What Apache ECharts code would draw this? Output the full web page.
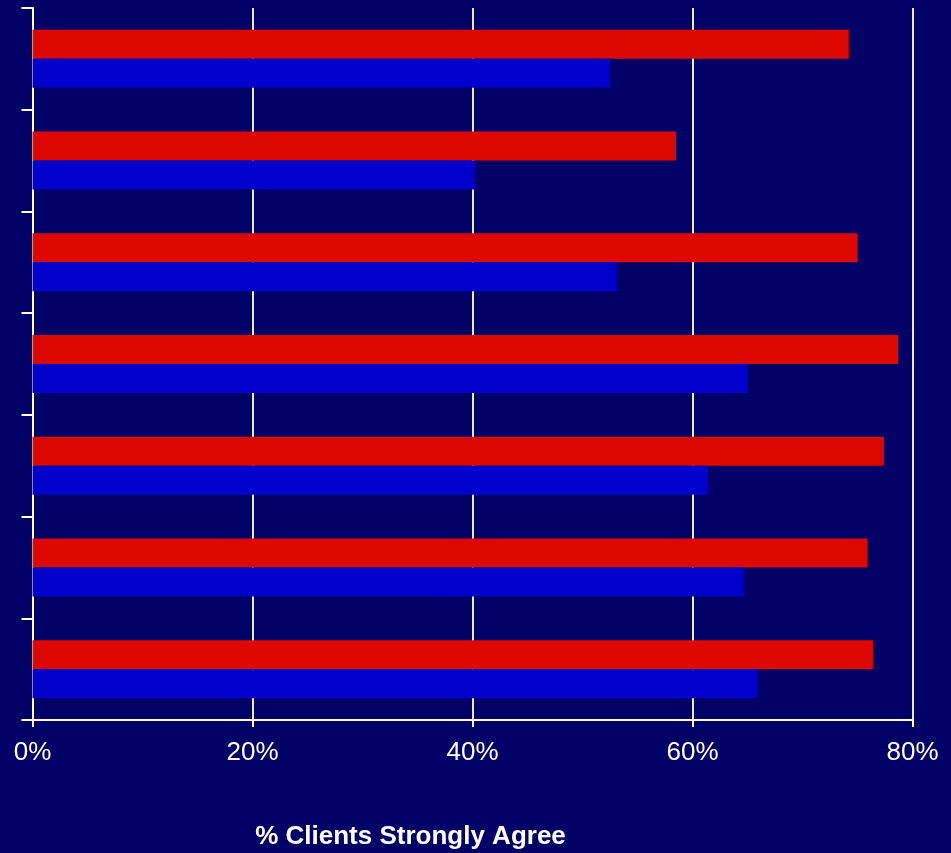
<!DOCTYPE html>
<html>
<head>
<meta charset="utf-8">
<script src="https://cdn.jsdelivr.net/npm/echarts@6/dist/echarts.min.js"></script>
<style>html,body{margin:0;padding:0;background:#000066;}#c{width:951px;height:853px;}</style>
</head>
<body>
<div id="c"></div>
<script>
const categories = ['Item 1','Item 2','Item 3','Item 4','Item 5','Item 6','Item 7'];
const redValues = [74.2, 58.5, 75.0, 78.7, 77.4, 75.9, 76.4];
const blueValues = [52.5, 40.2, 53.1, 65.0, 61.4, 64.6, 65.9];
const xTicks = [0, 20, 40, 60, 80];
const axisTitle = '% Clients Strongly Agree';

const chart = echarts.init(document.getElementById('c'));
chart.setOption({
  backgroundColor: '#000066',
  animation: false,
  grid: { left: 32.5, right: 38.5, top: 8, bottom: 133, containLabel: false, outerBoundsMode: 'none' },
  xAxis: {
    type: 'value', min: xTicks[0], max: xTicks[xTicks.length-1], interval: 20,
    axisLine: { show: true, lineStyle: { color: '#ffffff', width: 2 } },
    axisTick: { show: true, length: 7, lineStyle: { color: '#ffffff', width: 2 } },
    splitLine: { show: true, lineStyle: { color: '#e8e8f0', width: 2 } },
    axisLabel: { color: '#ffffff', fontFamily: 'Liberation Sans, Arial, sans-serif', fontSize: 26, margin: 20,
      formatter: v => v + '%' },
    name: axisTitle, nameLocation: 'middle', nameGap: 104,
    nameTextStyle: { color: '#ffffff', fontFamily: 'Liberation Sans, Arial, sans-serif', fontSize: 26, fontWeight: 'bold',
      padding: [0, 124, 0, 0] }
  },
  yAxis: {
    type: 'category', data: categories, inverse: true,
    axisLine: { show: true, lineStyle: { color: '#ffffff', width: 2 } },
    axisTick: { show: true, length: 11, lineStyle: { color: '#ffffff', width: 2 } },
    axisLabel: { show: false },
    splitLine: { show: false }
  },
  series: [
    { name: 'Red', type: 'bar', data: redValues, barWidth: 29, barGap: '0%',
      itemStyle: { color: '#dd0800' } },
    { name: 'Blue', type: 'bar', data: blueValues, barWidth: 29, barGap: '0%',
      itemStyle: { color: '#0000cc' } }
  ]
});
</script>
</body>
</html>
